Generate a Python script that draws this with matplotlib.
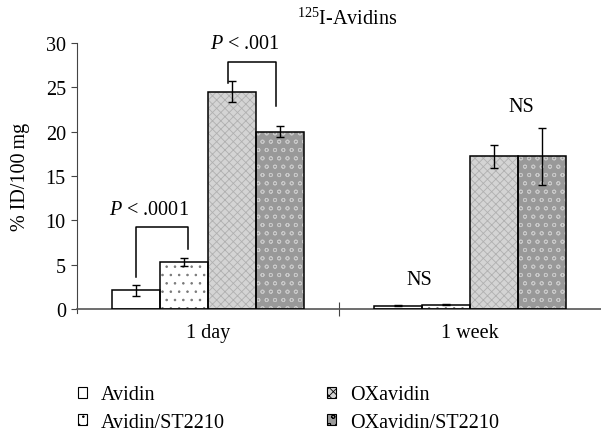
import matplotlib
matplotlib.use("Agg")
import matplotlib.pyplot as plt
from matplotlib.patches import Patch
import numpy as np

plt.rcParams['font.family'] = ['Liberation Serif', 'DejaVu Serif']
plt.rcParams['mathtext.fontset'] = 'custom'
plt.rcParams['mathtext.rm'] = 'Liberation Serif'
plt.rcParams['mathtext.it'] = 'Liberation Serif:italic'
plt.rcParams['hatch.linewidth'] = 0.6

categories = ['1 day', '1 week']
series = ['Avidin', 'Avidin/ST2210', 'OXavidin', 'OXavidin/ST2210']
values = {
    'Avidin': [2.1, 0.35],
    'Avidin/ST2210': [5.3, 0.5],
    'OXavidin': [24.5, 17.2],
    'OXavidin/ST2210': [20.0, 17.2],
}
errors = {
    'Avidin': [0.6, 0.05],
    'Avidin/ST2210': [0.5, 0.08],
    'OXavidin': [1.2, 1.25],
    'OXavidin/ST2210': [0.6, 3.2],
}
yticks = [0, 5, 10, 15, 20, 25, 30]

styles = {
    'Avidin': dict(facecolor='white', hatch=None, hcolor='black'),
    'Avidin/ST2210': dict(facecolor='white', hatch='..', hcolor='#777777'),
    'OXavidin': dict(facecolor='#d4d4d4', hatch='xxxx', hcolor='#b0b0b0'),
    'OXavidin/ST2210': dict(facecolor='#999999', hatch='oo', hcolor='#c8c8c8'),
}

FS = 14.5
fig = plt.figure(figsize=(6.01, 4.35), dpi=100)
ax = fig.add_axes([0.128, 0.2874, 0.872, 0.6116])

x = np.arange(len(categories))
w = 0.183
offsets = np.array([-1.5, -0.5, 0.5, 1.5]) * w
for i, s in enumerate(series):
    st = styles[s]
    ax.bar(x + offsets[i], values[s], w, facecolor=st['facecolor'],
           edgecolor=st['hcolor'], hatch=st['hatch'], linewidth=0, zorder=2)
    ax.bar(x + offsets[i], values[s], w, facecolor='none', edgecolor='black',
           linewidth=1.1, zorder=3)
    ax.errorbar(x + offsets[i], values[s], yerr=errors[s], fmt='none',
                ecolor='black', elinewidth=1.0, capsize=3, capthick=1.0, zorder=4)

ax.set_xlim(-0.5, 1.5)
ax.set_ylim(0, 30)
ax.set_yticks(yticks)
ax.set_xticks([0.5])
ax.set_xticklabels([''])
ax.tick_params(axis='x', direction='inout', length=10, color='#444444')
ax.tick_params(axis='y', direction='out', length=4, color='#444444', labelsize=FS, pad=4)
for c, lab in zip(x, categories):
    ax.text(c, -1.6, lab, ha='center', va='top', fontsize=FS)
for sp in ['top', 'right']:
    ax.spines[sp].set_visible(False)
ax.spines['left'].set_color('#444444')
ax.spines['bottom'].set_color('#555555')
ax.spines['bottom'].set_linewidth(1.2)
ax.spines['left'].set_bounds(-0.4, 30)
ax.set_ylabel('% ID/100\u2009mg', fontsize=FS, labelpad=11)

# significance brackets
def bracket(x1, x2, ytop, yl, yr):
    ax.plot([x1, x1, x2, x2], [yl, ytop, ytop, yr], color='black', lw=1.1, zorder=5)

bracket(x[0] + offsets[0], x[0] + offsets[1] + 0.015, 9.3, 3.6, 6.8)
ax.text(x[0] - 0.225, 10.1, r'$P$ < .0001', ha='center', va='bottom', fontsize=FS)
bracket(x[0] + offsets[2] - 0.015, x[0] + offsets[3] - 0.015, 27.8, 25.5, 22.9)
ax.text(x[0] + 0.14, 28.9, r'$P$ < .001', ha='center', va='bottom', fontsize=FS)
ax.text(x[1] - 0.195, 2.2, 'NS', ha='center', va='bottom', fontsize=FS)
ax.text(x[1] + 0.195, 21.8, 'NS', ha='center', va='bottom', fontsize=FS)

fig.text(0.577, 0.955, r'$^{125}$I-Avidins', ha='center', va='center', fontsize=FS)

handles = []
for s in series:
    st = styles[s]
    handles.append(Patch(facecolor=st['facecolor'], edgecolor='black',
                         hatch=st['hatch'], linewidth=0.8, label=s))
common = dict(loc='upper left', frameon=False, fontsize=FS, handlelength=0.45,
              handleheight=0.45, handletextpad=0.7, labelspacing=0.42,
              borderaxespad=0, borderpad=0)
fig.legend(handles[:2], series[:2], bbox_to_anchor=(0.13, 0.112), **common)
fig.legend(handles[2:], series[2:], bbox_to_anchor=(0.544, 0.112), **common)

fig.savefig('out.png', dpi=100)
